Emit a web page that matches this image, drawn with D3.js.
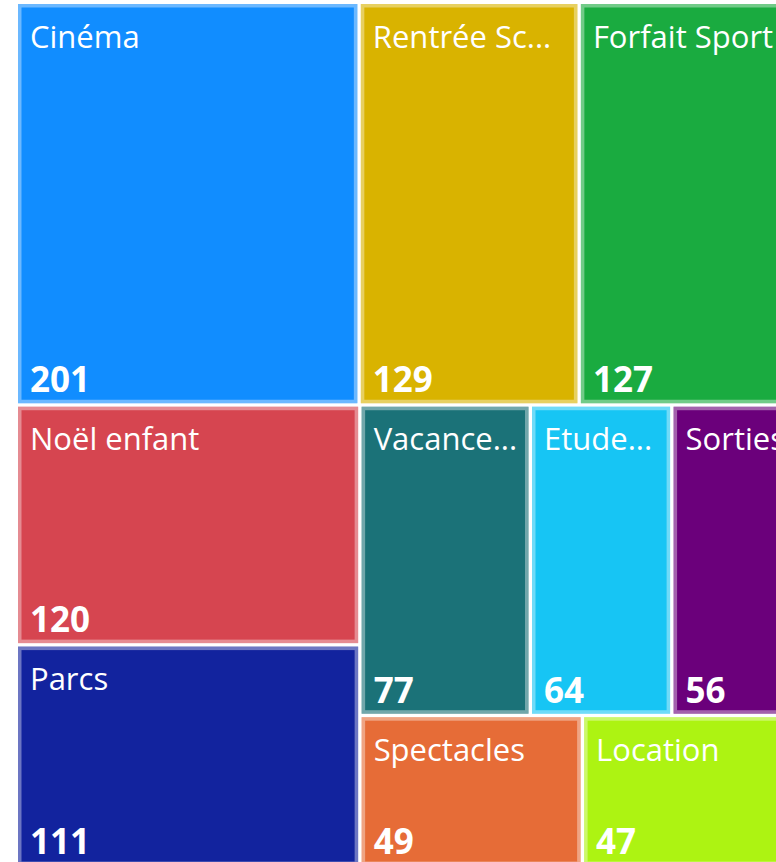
<!DOCTYPE html>
<html><head><meta charset="utf-8">
<script src="https://cdn.jsdelivr.net/npm/d3@7"></script>
<style>html,body{margin:0;padding:0;background:#fff;overflow:hidden}svg{display:block}</style>
</head><body>
<script>
const categories = ["Cinéma","Rentrée Scolaire","Forfait Sport","Noël enfant","Parcs","Vacances enfants","Etudes supérieures","Sorties","Spectacles","Location"];
const values = [201,129,127,120,111,77,64,56,49,47];
const colors = ["#118DFF","#D9B300","#1AAB40","#D64550","#12239E","#1B7278","#17C5F4","#6B007B","#E66C37","#ADF312"];

const W = 776, H = 862;
const svg = d3.select("body").append("svg").attr("width", W).attr("height", H);

const root = d3.hierarchy({children: categories.map((c, i) => ({name: c, value: values[i], color: colors[i]}))})
  .sum(d => d.value || 0);

d3.treemap().tile(d3.treemapSquarify).size([776, 861]).paddingInner(3.5).round(false)(root);

const g = svg.append("g").attr("transform", "translate(18,4)");
const leaf = g.selectAll("g.tile").data(root.leaves()).join("g").attr("class", "tile");

leaf.append("rect")
  .attr("x", d => d.x0).attr("y", d => d.y0)
  .attr("width", d => d.x1 - d.x0).attr("height", d => d.y1 - d.y0)
  .attr("fill", d => d.data.color);

leaf.append("rect")
  .attr("x", d => d.x0 + 1.75).attr("y", d => d.y0 + 1.75)
  .attr("width", d => d.x1 - d.x0 - 3.5).attr("height", d => d.y1 - d.y0 - 3.5)
  .attr("fill", "none").attr("stroke", "#fff").attr("stroke-opacity", 0.38).attr("stroke-width", 3.5);

const pad = 12;
leaf.append("text")
  .attr("x", d => d.x0 + pad).attr("y", d => d.y0 + 43.5)
  .attr("fill", "#fff")
  .style("font-family", "'Open Sans', sans-serif").style("font-size", "31px")
  .each(function(d) {
    const el = d3.select(this);
    const maxW = (d.x1 - d.x0) - 20.5;
    let s = d.data.name;
    el.text(s);
    if (this.getComputedTextLength() > maxW) {
      while (s.length > 0) {
        s = s.slice(0, -1);
        el.text(s.trimEnd() + "...");
        if (this.getComputedTextLength() <= maxW) break;
      }
    }
  });

leaf.append("text")
  .attr("x", d => d.x0 + pad).attr("y", d => d.y1 - 11)
  .attr("fill", "#fff")
  .style("font-family", "'Open Sans', sans-serif").style("font-size", "35px").style("font-weight", "bold")
  .text(d => d.data.value);
</script>
</body></html>
